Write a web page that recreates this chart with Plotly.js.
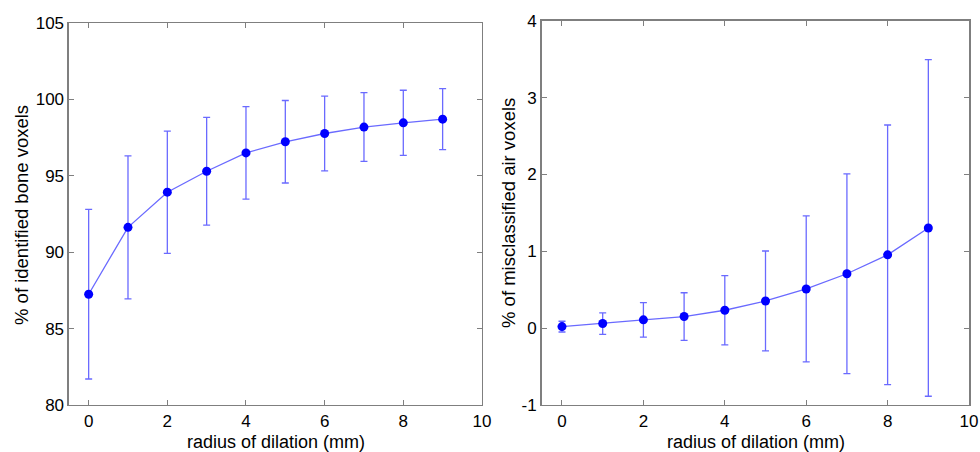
<!DOCTYPE html>
<html>
<head>
<meta charset="utf-8">
<script src="https://cdn.plot.ly/plotly-3.0.1.min.js"></script>
<style>html,body{margin:0;padding:0;background:#fff;}#chart{width:980px;height:452px;}</style>
</head>
<body>
<div id="chart"></div>
<script>
// Data
const radius = [0, 1, 2, 3, 4, 5, 6, 7, 8, 9];
const boneMean = [87.25, 91.63, 93.93, 95.3, 96.5, 97.23, 97.77, 98.19, 98.47, 98.71];
const boneErr = [5.55, 4.68, 4.0, 3.53, 3.03, 2.7, 2.45, 2.25, 2.13, 2.0];
const airMean = [0.02, 0.06, 0.108, 0.151, 0.233, 0.354, 0.51, 0.708, 0.954, 1.304];
const airErr = [0.07, 0.14, 0.225, 0.31, 0.45, 0.65, 0.95, 1.3, 1.69, 2.19];
const xTicks = [0, 2, 4, 6, 8, 10];
const boneTicks = [80, 85, 90, 95, 100, 105];
const airTicks = [-1, 0, 1, 2, 3, 4];
const xTitle = 'radius of dilation (mm)';
const boneTitle = '% of identified bone voxels';
const airTitle = '% of misclassified air voxels';

const lineBlue = '#6a6aff';
const dotBlue = '#0000ff';
const frame = '#7f7f7f';
const fontFam = '"Liberation Sans", Arial, Helvetica, sans-serif';

function trace(y, e, xa, ya) {
  return {
    x: radius, y: y, xaxis: xa, yaxis: ya,
    type: 'scatter', mode: 'lines+markers',
    line: {color: lineBlue, width: 1.3},
    marker: {color: dotBlue, size: 9},
    error_y: {type: 'data', array: e, visible: true, color: lineBlue, thickness: 1.3, width: 3.5},
    showlegend: false, hoverinfo: 'skip'
  };
}

function xaxis(domain, anchor) {
  return {
    domain: domain, anchor: anchor, range: [-0.5, 10],
    tickmode: 'array', tickvals: xTicks, ticktext: xTicks.map(String),
    ticks: 'inside', ticklen: 5, tickcolor: frame, tickwidth: 1,
    showline: true, linecolor: frame, linewidth: 1.5, mirror: 'ticks',
    showgrid: false, zeroline: false,
    tickfont: {family: fontFam, size: 17, color: '#000'}
  };
}
function yaxis(domain, anchor, range, ticks) {
  return {
    domain: domain, anchor: anchor, range: range,
    tickmode: 'array', tickvals: ticks, ticktext: ticks.map(t => t < 0 ? '-' + Math.abs(t) : String(t)),
    ticks: 'inside', ticklen: 5, tickcolor: frame, tickwidth: 1,
    showline: true, linecolor: frame, linewidth: 1.5, mirror: 'ticks',
    showgrid: false, zeroline: false,
    tickfont: {family: fontFam, size: 17, color: '#000'}
  };
}

function title(text, xpx, ypx, angle, size) {
  return {
    text: text, xref: 'paper', yref: 'paper', x: xpx / 980, y: 1 - ypx / 452,
    xanchor: 'center', yanchor: 'middle', textangle: angle, showarrow: false,
    font: {family: fontFam, size: size, color: '#000'}
  };
}

const data = [
  trace(boneMean, boneErr, 'x', 'y'),
  trace(airMean, airErr, 'x2', 'y2')
];

const layout = {
  width: 980, height: 452,
  margin: {l: 0, r: 0, t: 0, b: 0},
  paper_bgcolor: '#fff', plot_bgcolor: '#fff',
  xaxis: xaxis([0.0704, 0.4918], 'y'),
  yaxis: yaxis([0.1040, 0.949], 'x', [80, 105], boneTicks),
  xaxis2: xaxis([0.5527, 0.9888], 'y2'),
  yaxis2: yaxis([0.1040, 0.954], 'x2', [-1, 4], airTicks),
  annotations: [
    title(boneTitle, 21, 215, -90, 18.5),
    title(airTitle, 508, 213, -90, 18.5),
    title(xTitle, 275.5, 441.5, 0, 18),
    title(xTitle, 755.5, 441.5, 0, 18)
  ]
};

Plotly.newPlot('chart', data, layout, {displayModeBar: false, staticPlot: true});
</script>
</body>
</html>
